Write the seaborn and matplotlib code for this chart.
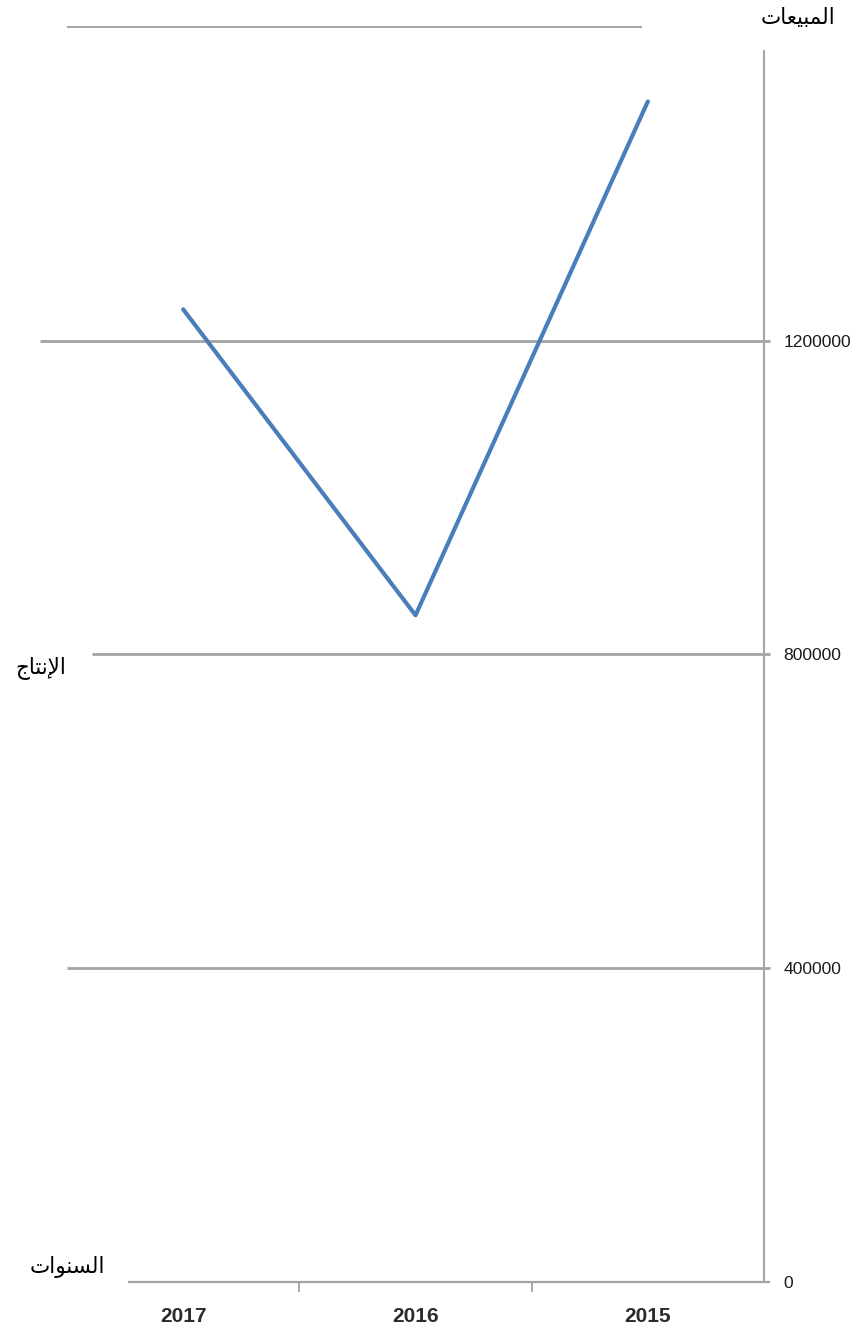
import matplotlib
matplotlib.use("Agg")
import matplotlib.pyplot as plt
import seaborn as sns
import pandas as pd

# Data
years = ["2017", "2016", "2015"]
sales = [1240000, 850000, 1505000]
y_ticks = [0, 400000, 800000, 1200000]

# Axis titles (Arabic, written in presentation forms in visual order)
title_sales = "\uFE95\uFE8E\uFECC\uFEF4\uFE92\uFEE4\uFEDF\uFE8D"      # المبيعات
title_production = "\uFE9D\uFE8E\uFE98\uFEE7\uFEF9\uFE8D"             # الإنتاج
title_years = "\uFE95\uFE8D\uFEEE\uFEE8\uFEB4\uFEDF\uFE8D"            # السنوات

df = pd.DataFrame({"year": years, "sales": sales})

sns.set_theme(style="white")
plt.rcParams["font.family"] = ["Liberation Sans", "DejaVu Sans"]

fig = plt.figure(figsize=(8.54, 13.35), dpi=100)
ax = fig.add_axes([0.0785, 0.0397, 0.8161, 0.9401])

grid_color = "#a3a3a3"

# Horizontal grid lines with their individual left extents
grid_specs = [(400000, -0.5), (800000, -0.392), (1200000, -0.616)]
for yv, x0 in grid_specs:
    ax.hlines(yv, x0, 2.526, color=grid_color, lw=2.0, clip_on=False, zorder=1)
# top reference line
ax.hlines(1600000, -0.5, 1.975, color=grid_color, lw=1.4, clip_on=False, zorder=1)
# category (x) axis line
ax.hlines(0, -0.237, 2.526, color=grid_color, lw=1.6, clip_on=False, zorder=1)

sns.lineplot(data=df, x="year", y="sales", ax=ax, color="#4a7ebb",
             linewidth=3.0, sort=False, zorder=3)

ax.set_xlim(-0.5, 2.5)
ax.set_ylim(0, 1600000)

# Value axis on the right
for side in ["left", "top", "bottom"]:
    ax.spines[side].set_visible(False)
ax.spines["right"].set_visible(True)
ax.spines["right"].set_color("#a6a6a6")
ax.spines["right"].set_linewidth(1.5)
ax.spines["right"].set_bounds(0, 1569000)

ax.yaxis.tick_right()
ax.set_yticks(y_ticks)
ax.set_yticklabels([str(v) for v in y_ticks])
ax.tick_params(axis="y", length=0, pad=14, labelsize=12.6, labelcolor="#1a1a1a")

ax.set_xticks([0, 1, 2])
ax.set_xticklabels(years, family=["Liberation Sans Narrow", "Liberation Sans"],
                   fontweight="bold")
ax.set_xticks([0.5, 1.5], minor=True)
ax.tick_params(axis="x", which="major", length=0, pad=18, labelsize=15,
               labelcolor="#2b2b2b")
ax.tick_params(axis="x", which="minor", bottom=True, length=7, width=1.3,
               color=grid_color, direction="out")

ax.set_xlabel("")
ax.set_ylabel("")
ax.grid(False)

# Axis titles
fig.text(798 / 854, 1 - 18 / 1335, title_sales, family="DejaVu Sans",
         fontsize=15.5, ha="center", va="center", color="black")
fig.text(41 / 854, 1 - 668 / 1335, title_production, family="DejaVu Sans",
         fontsize=15.5, ha="center", va="center", color="black")
fig.text(67 / 854, 1 - 1267 / 1335, title_years, family="DejaVu Sans",
         fontsize=15.5, ha="center", va="center", color="black")

fig.savefig("out.png", dpi=100, facecolor="white")
